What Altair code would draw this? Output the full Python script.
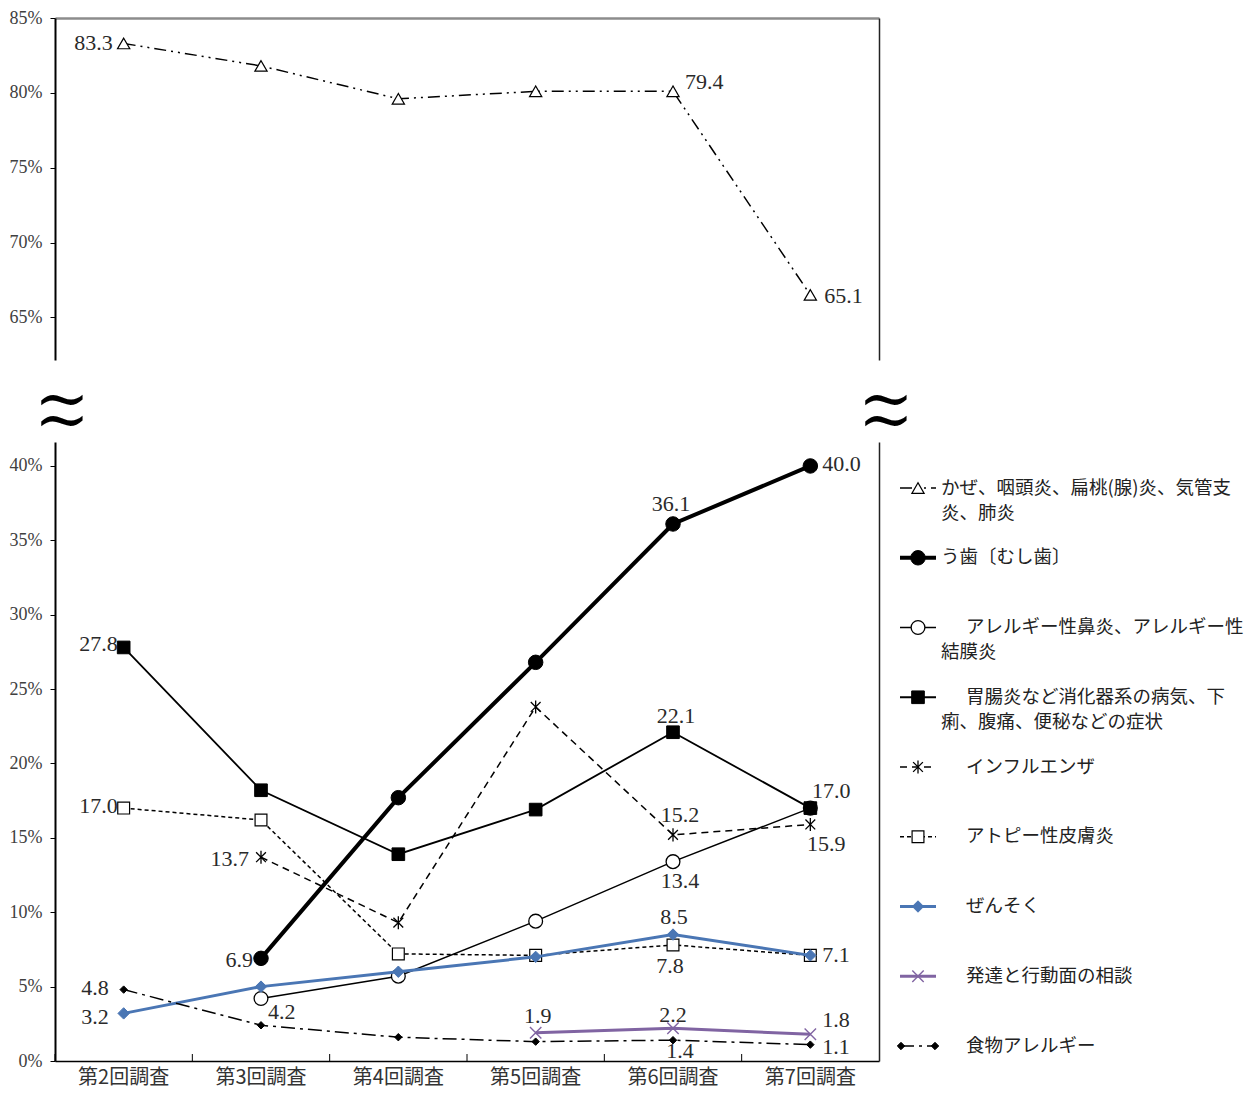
import altair as alt
import pandas as pd

# ---------------- data ----------------
cats = ["第2回調査", "第3回調査", "第4回調査", "第5回調査", "第6回調査", "第7回調査"]

colds = [83.3, 81.8, 79.6, 80.1, 80.1, 66.5]
caries = [None, 6.9, 17.7, 26.8, 36.1, 40.0]
rhinitis = [None, 4.2, 5.7, 9.4, 13.4, 17.0]
gastro = [27.8, 18.2, 13.9, 16.9, 22.1, 17.0]
influenza = [None, 13.7, 9.3, 23.8, 15.2, 15.9]
atopic = [17.0, 16.2, 7.2, 7.1, 7.8, 7.1]
asthma = [3.2, 5.0, 6.0, 7.0, 8.5, 7.1]
devcons = [None, None, None, 1.9, 2.2, 1.8]
food = [4.8, 2.4, 1.6, 1.3, 1.4, 1.1]

series_keys = ["colds", "caries", "rhinitis", "gastro", "influenza",
               "atopic", "asthma", "devcons", "food"]
series_vals = dict(colds=colds, caries=caries, rhinitis=rhinitis, gastro=gastro,
                   influenza=influenza, atopic=atopic, asthma=asthma,
                   devcons=devcons, food=food)

# legend text: first line, second (wrapped) line, first line indented or not
legend_line1 = ["かぜ、咽頭炎、扁桃(腺)炎、気管支", "う歯〔むし歯〕",
                "アレルギー性鼻炎、アレルギー性", "胃腸炎など消化器系の病気、下",
                "インフルエンザ", "アトピー性皮膚炎", "ぜんそく",
                "発達と行動面の相談", "食物アレルギー"]
legend_line2 = ["炎、肺炎", "", "結膜炎", "痢、腹痛、便秘などの症状", "", "", "", "", ""]
legend_indent = [False, False, True, True, True, True, True, True, True]

top_ticks = [65, 70, 75, 80, 85]
bottom_ticks = [0, 5, 10, 15, 20, 25, 30, 35, 40]

# data labels: (series, category index, text)
top_labels = [("colds", 0, "83.3"), ("colds", 4, "79.4"), ("colds", 5, "65.1")]
bottom_labels = [
    ("caries", 1, "6.9"), ("caries", 4, "36.1"), ("caries", 5, "40.0"),
    ("rhinitis", 1, "4.2"), ("rhinitis", 4, "13.4"),
    ("gastro", 0, "27.8"), ("gastro", 4, "22.1"), ("gastro", 5, "17.0"),
    ("influenza", 1, "13.7"), ("influenza", 4, "15.2"), ("influenza", 5, "15.9"),
    ("atopic", 0, "17.0"), ("atopic", 4, "7.8"), ("atopic", 5, "7.1"),
    ("asthma", 0, "3.2"), ("asthma", 4, "8.5"),
    ("devcons", 3, "1.9"), ("devcons", 4, "2.2"), ("devcons", 5, "1.8"),
    ("food", 0, "4.8"), ("food", 4, "1.4"), ("food", 5, "1.1"),
]

# ---------------- styles / layout ----------------
W, TOP_H, BOT_H, LEG_W = 824, 342, 619, 330
TOP_DOMAIN = [62.15, 85]
BOT_DOMAIN = [0, 41.61]
NUM_FONT = "Liberation Serif"
JP_FONT = "Noto Sans CJK JP"
ASTERISK = "M-0.75,-0.75L0.75,0.75M-0.75,0.75L0.75,-0.75M0,-1L0,1"
XMARK = "M-1,-1L1,1M-1,1L1,-1"
BLUE = "#4a76b4"
PURPLE = "#8064a2"

styles = {
    "colds": dict(color="black", width=1.5, dash=[12, 5, 2, 5, 2, 5], shape="triangle-up", size=150, fill="white", stroke="black", sw=1.2),
    "caries": dict(color="black", width=4, shape="circle", size=210, fill="black", stroke="black", sw=1),
    "rhinitis": dict(color="black", width=1.5, shape="circle", size=190, fill="white", stroke="black", sw=1.3),
    "gastro": dict(color="black", width=1.8, shape="square", size=160, fill="black", stroke="black", sw=1),
    "influenza": dict(color="black", width=1.5, dash=[7, 5], shape=ASTERISK, size=170, stroke="black", sw=1.3),
    "atopic": dict(color="black", width=1.5, dash=[4, 3], shape="square", size=140, fill="white", stroke="black", sw=1.2),
    "asthma": dict(color=BLUE, width=3, shape="diamond", size=130, fill=BLUE, stroke=BLUE, sw=1),
    "devcons": dict(color=PURPLE, width=3, shape=XMARK, size=130, stroke=PURPLE, sw=1.4),
    "food": dict(color="black", width=1.5, dash=[14, 5, 3, 5], shape="diamond", size=55, fill="black", stroke="black", sw=1),
}

# label placement: (align, dx, dy)
placement = {
    ("colds", 0): ("right", -11, 0), ("colds", 4): ("left", 12, -9), ("colds", 5): ("left", 14, 1),
    ("caries", 1): ("right", -8, 2), ("caries", 4): ("center", -2, -20), ("caries", 5): ("left", 12, -2),
    ("rhinitis", 1): ("left", 7, 13), ("rhinitis", 4): ("center", 7, 19),
    ("gastro", 0): ("right", -6, -3), ("gastro", 4): ("center", 3, -16), ("gastro", 5): ("center", 21, -17),
    ("influenza", 1): ("right", -12, 2), ("influenza", 4): ("center", 7, -20), ("influenza", 5): ("center", 16, 20),
    ("atopic", 0): ("right", -6, -2), ("atopic", 4): ("center", -3, 21), ("atopic", 5): ("left", 12, 0),
    ("asthma", 0): ("right", -15, 4), ("asthma", 4): ("center", 1, -18),
    ("devcons", 3): ("center", 2, -17), ("devcons", 4): ("center", 0, -13), ("devcons", 5): ("left", 12, -14),
    ("food", 0): ("right", -15, -2), ("food", 4): ("center", 7, 11), ("food", 5): ("left", 12, 2),
}

xs = alt.Scale(type="band", domain=cats, paddingInner=0, paddingOuter=0)


def yscale(dom):
    return alt.Scale(domain=dom, zero=False, nice=False)


def left_axis(values):
    return alt.Axis(values=values, labelExpr="datum.value + '%'", title=None, grid=False,
                    domainColor="black", domainWidth=2, tickColor="black", tickSize=5,
                    tickWidth=1, labelFont=NUM_FONT, labelFontSize=18, labelColor="#404040",
                    labelPadding=8)


right_axis = alt.Axis(orient="right", labels=False, ticks=False, title=None, grid=False,
                      domainColor="#222222", domainWidth=1.5)
top_x_axis = alt.Axis(orient="top", labels=False, ticks=False, title=None, grid=False,
                      domainColor="#8c8c8c", domainWidth=2.5)
bottom_x_axis = alt.Axis(orient="bottom", title=None, ticks=False, grid=False, domainColor="black",
                         domainWidth=1.5, labelFont=JP_FONT, labelFontSize=20, labelColor="#333333",
                         labelPadding=6, labelAngle=0)


def sdf(vals):
    return pd.DataFrame({"cat": [c for c, v in zip(cats, vals) if v is not None],
                         "v": [v for v in vals if v is not None]})


def line_layer(key, dom, xaxis=None, yaxis=None):
    st = styles[key]
    kw = dict(color=st["color"], strokeWidth=st["width"])
    if "dash" in st:
        kw["strokeDash"] = st["dash"]
    return alt.Chart(sdf(series_vals[key])).mark_line(**kw).encode(
        x=alt.X("cat:N", scale=xs, axis=xaxis),
        y=alt.Y("v:Q", scale=yscale(dom), axis=yaxis))


def point_kwargs(key):
    st = styles[key]
    kw = dict(shape=st["shape"], size=st["size"], stroke=st["stroke"], strokeWidth=st["sw"], opacity=1)
    if "fill" in st:
        kw["filled"] = True
        kw["fill"] = st["fill"]
    else:
        kw["filled"] = False
    return kw


def point_layer(key, dom, yaxis=None):
    return alt.Chart(sdf(series_vals[key])).mark_point(**point_kwargs(key)).encode(
        x=alt.X("cat:N", scale=xs, axis=None),
        y=alt.Y("v:Q", scale=yscale(dom), axis=yaxis))


def label_layer(key, i, text, dom):
    align, dx, dy = placement[(key, i)]
    df = pd.DataFrame({"cat": [cats[i]], "v": [series_vals[key][i]], "t": [text]})
    return alt.Chart(df).mark_text(align=align, baseline="middle", dx=dx, dy=dy, font=NUM_FONT,
                                   fontSize=22, color="#2a2a2a").encode(
        x=alt.X("cat:N", scale=xs, axis=None),
        y=alt.Y("v:Q", scale=yscale(dom), axis=None),
        text="t:N")


one = pd.DataFrame({"a": [0]})


def wave(xpix, ypix):
    # axis-break mark: two stacked tildes (≈)
    return alt.Chart(one).mark_text(text=["~", "~"], font="DejaVu Serif", fontSize=66, color="black",
                                    baseline="line-top", lineHeight=21, align="center").encode(
        x=alt.value(xpix), y=alt.value(ypix))


# ---------------- top panel ----------------
top_layers = [
    line_layer("colds", TOP_DOMAIN, xaxis=top_x_axis, yaxis=left_axis(top_ticks)),
    point_layer("colds", TOP_DOMAIN, yaxis=right_axis),
]
top_layers += [label_layer(k, i, t, TOP_DOMAIN) for k, i, t in top_labels]
top_layers += [wave(7, TOP_H + 31), wave(831, TOP_H + 31)]
top = alt.layer(*top_layers).resolve_axis(x="independent", y="independent").properties(
    width=W, height=TOP_H)

# ---------------- bottom panel ----------------
bkeys = series_keys[1:]
bot_layers = []
for n, k in enumerate(bkeys):
    if n == 0:
        bot_layers.append(line_layer(k, BOT_DOMAIN, xaxis=bottom_x_axis, yaxis=left_axis(bottom_ticks)))
    else:
        bot_layers.append(line_layer(k, BOT_DOMAIN))
    bot_layers.append(point_layer(k, BOT_DOMAIN, yaxis=right_axis if n == 0 else None))
bot_layers.append(
    alt.Chart(pd.DataFrame({"cat": cats})).mark_rule(color="black", strokeWidth=1).encode(
        x=alt.X("cat:N", scale=xs, axis=None, bandPosition=0),
        y=alt.value(BOT_H - 7), y2=alt.value(BOT_H)))
bot_layers += [label_layer(k, i, t, BOT_DOMAIN) for k, i, t in bottom_labels]
bottom = alt.layer(*bot_layers).resolve_axis(x="independent", y="independent").properties(
    width=W, height=BOT_H)

# ---------------- legend panel ----------------
lx = alt.Scale(domain=[0, LEG_W], nice=False, zero=False)
ly = alt.Scale(domain=[-0.66, 8.215], reverse=True, nice=False, zero=False)
leg_layers = []
for idx, k in enumerate(series_keys):
    st = styles[k]
    row = pd.DataFrame({"idx": [idx]})
    kw = dict(color=st["color"], strokeWidth=st["width"])
    if "dash" in st:
        kw["strokeDash"] = st["dash"]
    leg_layers.append(alt.Chart(row).mark_rule(**kw).encode(
        x=alt.XDatum(0, type="quantitative", scale=lx, axis=None),
        x2=alt.X2Datum(36),
        y=alt.Y("idx:Q", scale=ly, axis=None)))
    sym_x = [1, 35] if k == "food" else [18]
    for sx in sym_x:
        leg_layers.append(alt.Chart(row).mark_point(**point_kwargs(k)).encode(
            x=alt.XDatum(sx, type="quantitative", scale=lx, axis=None),
            y=alt.Y("idx:Q", scale=ly, axis=None)))

leg_text_kw = dict(align="left", baseline="line-top", lineBreak="\n", lineHeight=25, dy=-12.5,
                   font=JP_FONT, fontSize=18.5, color="#222222")
rows_plain = pd.DataFrame({
    "idx": [i for i in range(len(legend_line1)) if not legend_indent[i]],
    "name": [legend_line1[i] + ("\n" + legend_line2[i] if legend_line2[i] else "")
             for i in range(len(legend_line1)) if not legend_indent[i]]})
rows_indent = pd.DataFrame({
    "idx": [i for i in range(len(legend_line1)) if legend_indent[i]],
    "name": [legend_line1[i] for i in range(len(legend_line1)) if legend_indent[i]]})
rows_wrap = pd.DataFrame({
    "idx": [i for i in range(len(legend_line1)) if legend_indent[i] and legend_line2[i]],
    "name": ["\n" + legend_line2[i] for i in range(len(legend_line1))
             if legend_indent[i] and legend_line2[i]]})
for df_, xpos in [(rows_plain, 41), (rows_indent, 66), (rows_wrap, 41)]:
    leg_layers.append(alt.Chart(df_).mark_text(**leg_text_kw).encode(
        x=alt.XDatum(xpos, type="quantitative", scale=lx, axis=None),
        y=alt.Y("idx:Q", scale=ly, axis=None),
        text="name:N"))
legend = alt.layer(*leg_layers).properties(width=LEG_W, height=BOT_H)

row = alt.hconcat(bottom, legend, spacing=21, bounds="flush")
chart = alt.vconcat(top, row, spacing=82, bounds="flush").configure_view(stroke=None).properties(
    padding={"left": 1, "top": 1, "right": 0, "bottom": 0})

chart.save("out.html", embed_options={"renderer": "svg", "actions": False})
